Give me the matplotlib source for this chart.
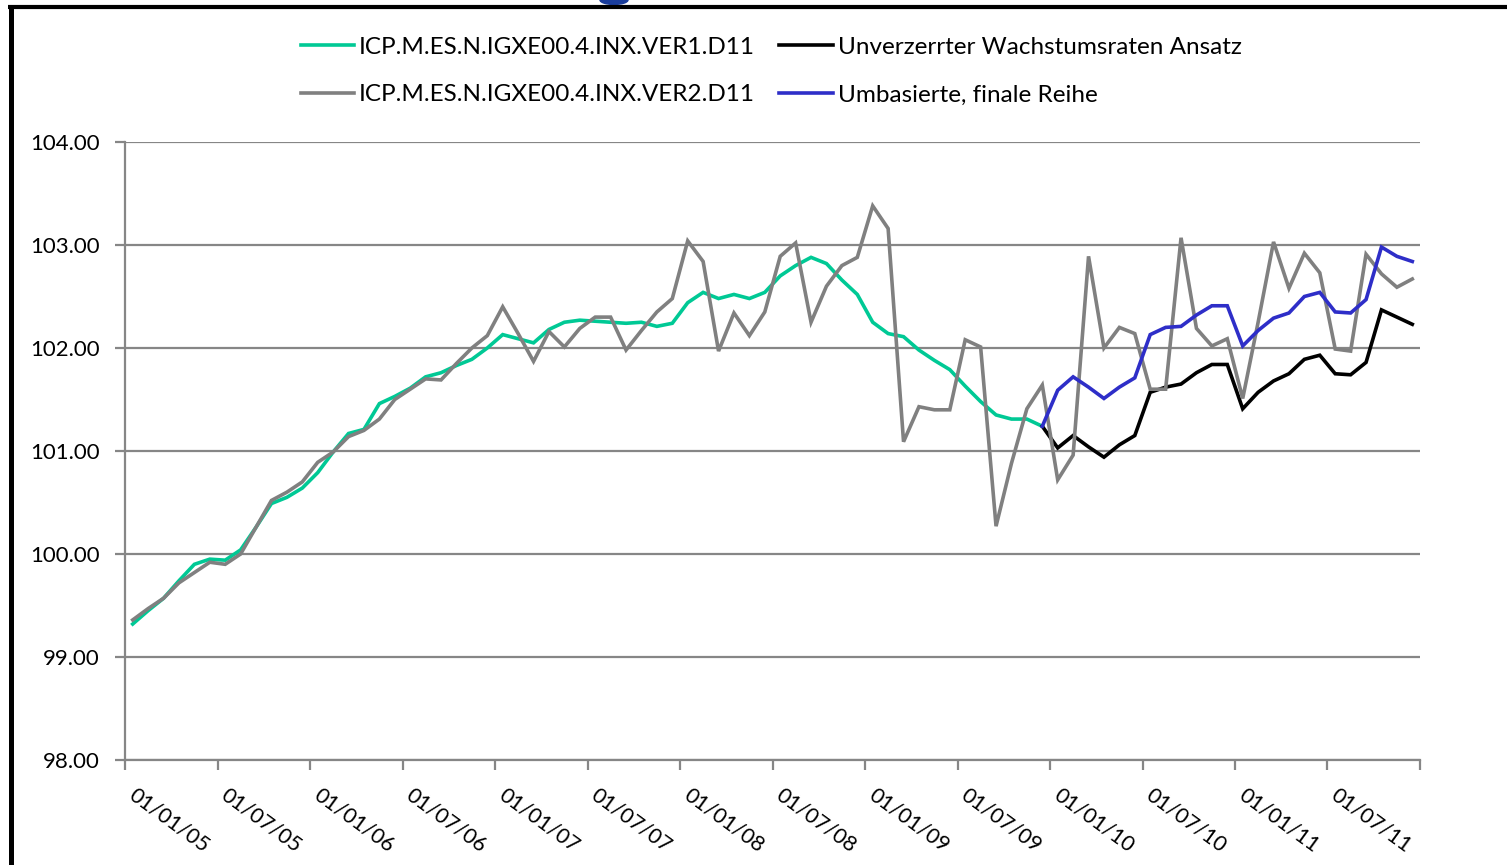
import matplotlib
matplotlib.use("Agg")
import matplotlib.pyplot as plt
import numpy as np
from matplotlib.lines import Line2D
from matplotlib.patches import Ellipse
import matplotlib.transforms as mtransforms

# ---------------- data (monthly, Jan 2005 .. Dec 2011) ----------------
tick_labels = ["01/01/05", "01/07/05", "01/01/06", "01/07/06", "01/01/07",
               "01/07/07", "01/01/08", "01/07/08", "01/01/09", "01/07/09",
               "01/01/10", "01/07/10", "01/01/11", "01/07/11", ""]

ver1 = [99.32, 99.45, 99.57, 99.74, 99.90, 99.95, 99.94, 100.04, 100.26, 100.49,
        100.55, 100.64, 100.79, 100.99, 101.17, 101.21, 101.46, 101.53, 101.61, 101.72,
        101.76, 101.83, 101.89, 102.00, 102.13, 102.09, 102.05, 102.18, 102.25, 102.27,
        102.26, 102.25, 102.24, 102.25, 102.21, 102.24, 102.44, 102.54, 102.48, 102.52,
        102.48, 102.54, 102.70, 102.80, 102.88, 102.82, 102.66, 102.52, 102.25, 102.14,
        102.11, 101.98, 101.88, 101.79, 101.63, 101.48, 101.35, 101.31, 101.31, 101.24]

ver2 = [99.36, 99.47, 99.57, 99.72, 99.82, 99.92, 99.90, 100.00, 100.26, 100.52,
        100.60, 100.70, 100.89, 100.99, 101.14, 101.20, 101.31, 101.50, 101.60, 101.70,
        101.69, 101.85, 102.00, 102.12, 102.40, 102.14, 101.87, 102.16, 102.01, 102.19,
        102.30, 102.30, 101.98, 102.17, 102.35, 102.48, 103.04, 102.84, 101.97, 102.34,
        102.12, 102.35, 102.89, 103.02, 102.25, 102.60, 102.80, 102.88, 103.38, 103.16,
        101.09, 101.43, 101.40, 101.40, 102.08, 102.01, 100.27, 100.88, 101.41, 101.64,
        100.72, 100.96, 102.89, 102.00, 102.20, 102.14, 101.60, 101.60, 103.07, 102.19,
        102.02, 102.09, 101.51, 102.25, 103.03, 102.58, 102.92, 102.73, 101.99, 101.97,
        102.91, 102.72, 102.59, 102.67]

unverzerrt = [101.24, 101.03, 101.15, 101.04, 100.94, 101.06, 101.15, 101.57, 101.62, 101.65,
              101.76, 101.84, 101.84, 101.41, 101.57, 101.68, 101.75, 101.89, 101.93, 101.75,
              101.74, 101.86, 102.37, 102.30, 102.23]

umbasiert = [101.24, 101.59, 101.72, 101.62, 101.51, 101.62, 101.71, 102.13, 102.20, 102.21,
             102.32, 102.41, 102.41, 102.02, 102.17, 102.29, 102.34, 102.50, 102.54, 102.35,
             102.34, 102.47, 102.98, 102.89, 102.84]

start_new = 59  # index (Dec 2009) where the new series begin

names = ["ICP.M.ES.N.IGXE00.4.INX.VER1.D11",
         "Unverzerrter Wachstumsraten Ansatz",
         "ICP.M.ES.N.IGXE00.4.INX.VER2.D11",
         "Umbasierte, finale Reihe"]

# ---------------- figure ----------------
plt.rcParams["font.family"] = ["Lato", "DejaVu Sans"]
W, H = 1507, 865
fig = plt.figure(figsize=(W / 100, H / 100), dpi=100)
ax = fig.add_axes([125 / W, 1 - 760 / H, (1420 - 125) / W, (760 - 142) / H])

grid_c = "#868686"
lw_data = 2.6

x1 = np.arange(len(ver1))
x2 = np.arange(len(ver2))
x3 = np.arange(start_new, start_new + len(unverzerrt))
x4 = np.arange(start_new, start_new + len(umbasiert))

l1, = ax.plot(x1, ver1, color="#00C995", lw=lw_data, zorder=3, solid_joinstyle="miter")
l3, = ax.plot(x3, unverzerrt, color="black", lw=lw_data, zorder=4, solid_joinstyle="miter")
l2, = ax.plot(x2, ver2, color="#808080", lw=lw_data, zorder=5, solid_joinstyle="miter")
l4, = ax.plot(x4, umbasiert, color="#2E2EC8", lw=lw_data, zorder=6, solid_joinstyle="miter")

ax.set_xlim(-0.5, 83.5)
ax.set_ylim(98, 104)
ax.set_yticks(np.arange(98, 104.01, 1))
ax.set_yticklabels([f"{v:.2f}" for v in np.arange(98, 104.01, 1)])
ax.set_xticks(np.arange(-0.5, 84, 6))
ax.set_xticklabels(tick_labels)

ax.grid(axis="y", color=grid_c, lw=1.6, zorder=1)
ax.set_axisbelow(True)
for s in ["top", "right"]:
    ax.spines[s].set_visible(False)
for s in ["left", "bottom"]:
    ax.spines[s].set_color(grid_c)
    ax.spines[s].set_linewidth(1.6)

ax.tick_params(axis="both", direction="out", length=7, width=1.6, color=grid_c,
               labelsize=16, labelcolor="black")
ax.tick_params(axis="y", pad=11)
ax.tick_params(axis="x", pad=11, labelsize=15.5)

offset = mtransforms.ScaledTranslation(12 / 100, 0, fig.dpi_scale_trans)
for lab in ax.get_xticklabels():
    lab.set_rotation(-36)
    lab.set_rotation_mode("anchor")
    lab.set_ha("left")
    lab.set_va("top")
    lab.set_transform(lab.get_transform() + offset)

# column-wise fill: col 1 = VER1, VER2 ; col 2 = Unverzerrter, Umbasierte
fig.legend([l1, l2, l3, l4], [names[0], names[2], names[1], names[3]],
           ncol=2, loc="center", bbox_to_anchor=(771 / W, 1 - 71 / H),
           frameon=False, fontsize=17.5, handlelength=2.2, handletextpad=0.2,
           columnspacing=1.0, labelspacing=1.1, borderpad=0)

# outer frame (black border of the slide/graphic)
fig.add_artist(Line2D([8 / W, 1.0], [1 - 7 / H, 1 - 7 / H], transform=fig.transFigure,
                      color="black", lw=3.0, solid_capstyle="butt"))
fig.add_artist(Line2D([10.5 / W, 10.5 / W], [0, 1 - 5 / H], transform=fig.transFigure,
                      color="black", lw=3.6, solid_capstyle="butt"))
# fragment of the cut-off title glyph above the frame
fig.add_artist(Ellipse((614 / W, 1 - 0 / H), 28 / W, 9 / H, transform=fig.transFigure,
                       color="#1A3D9C", clip_on=False))

fig.savefig("out.png", dpi=100)
